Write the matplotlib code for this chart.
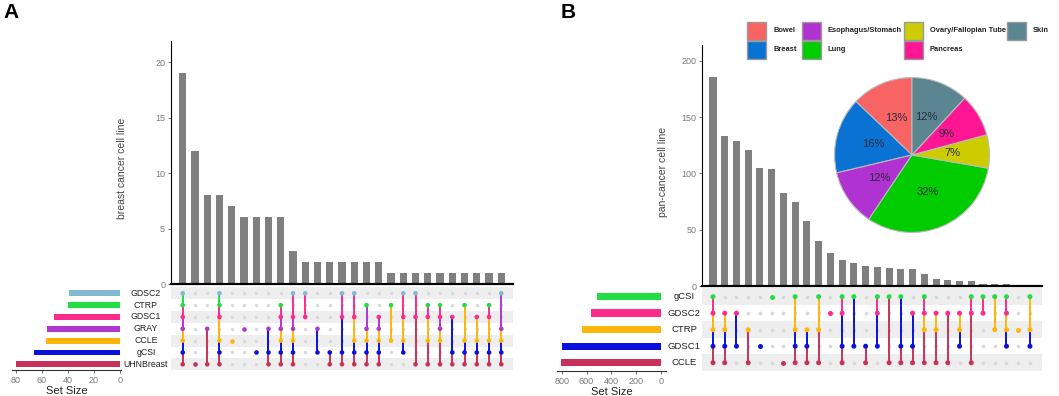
import matplotlib
matplotlib.use("Agg")
import matplotlib.pyplot as plt
from matplotlib.patches import Rectangle
from matplotlib.transforms import blended_transform_factory

plt.rcParams["font.family"] = ["Liberation Sans", "DejaVu Sans"]

W, H = 1059, 396

# ---------------- Panel A data ----------------
a_sets = ["GDSC2", "CTRP", "GDSC1", "GRAY", "CCLE", "gCSI", "UHNBreast"]
a_set_sizes = [39, 40, 51, 56, 57, 66, 80]
a_set_colors = ["#80b9d0", "#22dd44", "#ff2a8a", "#b036d0", "#ffb60a", "#0a10e0", "#c8325a"]
a_counts = [19, 12, 8, 8, 7, 6, 6, 6, 6, 3, 2, 2, 2, 2, 2, 2, 2,
            1, 1, 1, 1, 1, 1, 1, 1, 1, 1]
a_members = ["1111111", "0000001", "0001001", "1110111", "0000100", "0001000",
             "0000010", "0001011", "0111111", "1011111", "1010000", "0001010",
             "0000011", "1010011", "1010111", "0101111", "0011111", "0100100",
             "1010110", "1010001", "0110101", "0111101", "0010011", "0100111",
             "0010111", "0110111", "1001111"]
a_yticks = [0, 5, 10, 15, 20]
a_size_ticks = [80, 60, 40, 20, 0]

# ---------------- Panel B data ----------------
b_sets = ["gCSI", "GDSC2", "CTRP", "GDSC1", "CCLE"]
b_set_sizes = [518, 564, 636, 800, 808]
b_set_colors = ["#22dd44", "#ff2a8a", "#ffb60a", "#0a10e0", "#c8325a"]
b_counts = [186, 133, 129, 121, 105, 104, 83, 75, 58, 40, 29, 23, 20, 18,
            17, 16, 15, 15, 11, 6, 5, 4, 4, 2, 2, 2, 1, 1]
b_members = ["11111", "01111", "01010", "00101", "00010", "10000", "00001",
             "10111", "00111", "10101", "01000", "11011", "10010", "00011",
             "11010", "10001", "10011", "01011", "11101", "01101", "01001",
             "01110", "11001", "11000", "10100", "11110", "00100", "10110"]
b_yticks = [0, 50, 100, 150, 200]
b_size_ticks = [800, 600, 400, 200, 0]

# ---------------- Pie data ----------------
pie_labels = ["Bowel", "Breast", "Esophagus/Stomach", "Lung",
              "Ovary/Fallopian Tube", "Pancreas", "Skin"]
pie_values = [13, 16, 12, 32, 7, 9, 12]
pie_colors = ["#f86464", "#0a72d2", "#b032d0", "#00cc00", "#cccc00", "#ff1694", "#5b8590"]

fig = plt.figure(figsize=(W / 100, H / 100), dpi=100)
fig.patch.set_facecolor("white")


def px(x0, y0, x1, y1):
    return [x0 / W, 1 - y1 / H, (x1 - x0) / W, (y1 - y0) / H]


TICK_COLOR = "#7a7a7a"


def draw_upset(sets, sizes, colors, counts, members, bar_box, mat_box, size_box,
               xpad, ytop, yticks, ylabel, ylabel_xy, size_xlim, size_ticks,
               label_x, bar_h, dot_s, label_fs):
    n = len(counts)
    nr = len(sets)
    xlim = (-xpad[0], n - 1 + xpad[1])
    # intersection bars
    ax = fig.add_axes(px(*bar_box))
    ax.bar(range(n), counts, width=0.6, color="#7f7f7f")
    ax.set_xlim(*xlim)
    ax.set_ylim(0, ytop)
    for s in ["top", "right"]:
        ax.spines[s].set_visible(False)
    ax.spines["left"].set_linewidth(0.8)
    ax.spines["bottom"].set_linewidth(1.6)
    ax.set_xticks([])
    ax.set_yticks(yticks)
    ax.tick_params(axis="y", labelsize=6.5, labelcolor=TICK_COLOR, length=2.5,
                   width=0.6, color="#555555", pad=1.5)
    fig.text(ylabel_xy[0] / W, 1 - ylabel_xy[1] / H, ylabel, rotation=90,
             ha="center", va="center", fontsize=7.5, color="#444444")

    # matrix
    mx = fig.add_axes(px(*mat_box))
    mx.set_xlim(*xlim)
    mx.set_ylim(nr - 0.5, -0.5)
    for i in range(0, nr, 2):
        mx.axhspan(i - 0.5, i + 0.5, color="#eeeeee", lw=0, zorder=0)
    for s in mx.spines.values():
        s.set_visible(False)
    mx.set_xticks([])
    mx.set_yticks([])
    for j, mem in enumerate(members):
        filled = [i for i, c in enumerate(mem) if c == "1"]
        empty = [i for i, c in enumerate(mem) if c == "0"]
        mx.scatter([j] * len(empty), empty, s=dot_s * 0.55, color="#d9d9d9",
                   lw=0, zorder=2)
        for k in range(len(filled) - 1):
            r0, r1 = filled[k], filled[k + 1]
            mx.plot([j, j], [r0, r1], color=colors[r1], lw=1.4, zorder=3,
                    solid_capstyle="butt")
        mx.scatter([j] * len(filled), filled, s=dot_s,
                   color=[colors[i] for i in filled], lw=0, zorder=4)
    trans = blended_transform_factory(fig.transFigure, mx.transData)
    for i, name in enumerate(sets):
        mx.text(label_x / W, i, name, transform=trans, ha="center",
                va="center", fontsize=label_fs, color="#222222")

    # set size bars
    sx = fig.add_axes(px(*size_box))
    sx.barh(range(nr), sizes, height=bar_h, color=colors)
    sx.set_ylim(nr - 0.5, -0.5)
    sx.set_xlim(*size_xlim)
    for s in ["top", "right", "left"]:
        sx.spines[s].set_visible(False)
    sx.spines["bottom"].set_color("#333333")
    sx.spines["bottom"].set_linewidth(0.8)
    sx.set_yticks([])
    sx.set_xticks(size_ticks)
    sx.tick_params(axis="x", labelsize=6.5, labelcolor=TICK_COLOR, length=2.5,
                   width=0.6, color="#555555", pad=1.5)
    sx.set_xlabel("Set Size", fontsize=8, color="#222222", labelpad=1)
    sx.patch.set_alpha(0)


draw_upset(a_sets, a_set_sizes, a_set_colors, a_counts, a_members,
           bar_box=(170.7, 41, 513.3, 284), mat_box=(170.7, 287.4, 513.3, 370.2),
           size_box=(11.7, 287.4, 121, 370.2), xpad=(0.98, 0.98), ytop=21.9,
           yticks=a_yticks, ylabel="breast cancer cell line", ylabel_xy=(122, 168),
           size_xlim=(83.07, -0.77), size_ticks=a_size_ticks, label_x=146,
           bar_h=0.5, dot_s=11, label_fs=6.3)

draw_upset(b_sets, b_set_sizes, b_set_colors, b_counts, b_members,
           bar_box=(702.3, 45, 1041.7, 286), mat_box=(702.3, 288.4, 1041.7, 371),
           size_box=(556.7, 288.4, 666, 371), xpad=(0.91, 1.0), ytop=214,
           yticks=b_yticks, ylabel="pan-cancer cell line", ylabel_xy=(663, 172),
           size_xlim=(840.3, -40.3), size_ticks=b_size_ticks, label_x=684,
           bar_h=0.45, dot_s=13, label_fs=6.8)

# ---------------- pie ----------------
pax = fig.add_axes(px(833, 76, 991, 234))
pax.pie(pie_values, colors=pie_colors, startangle=90, counterclock=True,
        autopct="%1.0f%%", pctdistance=0.52,
        wedgeprops=dict(edgecolor="#bbbbbb", linewidth=0.8),
        textprops=dict(fontsize=8, color="#2a2a40"))
pax.set_aspect("equal")
pax.set_xlim(-1.02, 1.02)
pax.set_ylim(-1.02, 1.02)

# ---------------- legend ----------------
col_x = [747, 802, 904, 1007]
row_y = [21.5, 40.5]
bw, bh = 19, 18.5
for i, (lab, colr) in enumerate(zip(pie_labels, pie_colors)):
    c, r = i // 2, i % 2
    x0, y0 = col_x[c], row_y[r]
    fig.patches.append(Rectangle((x0 / W, 1 - (y0 + bh) / H), bw / W, bh / H,
                                 transform=fig.transFigure, facecolor=colr,
                                 edgecolor="#9a9a9a", lw=1.0))
    fig.text((x0 + 26) / W, 1 - (y0 + bh / 2) / H, lab, ha="left", va="center",
             fontsize=5.4, fontweight="bold", color="#222222")

# panel letters
fig.text(3 / W, 1 - 12 / H, "A", fontsize=15, fontweight="bold", ha="left", va="center")
fig.text(561 / W, 1 - 12 / H, "B", fontsize=15, fontweight="bold", ha="left", va="center")

fig.savefig("out.png", dpi=100)
